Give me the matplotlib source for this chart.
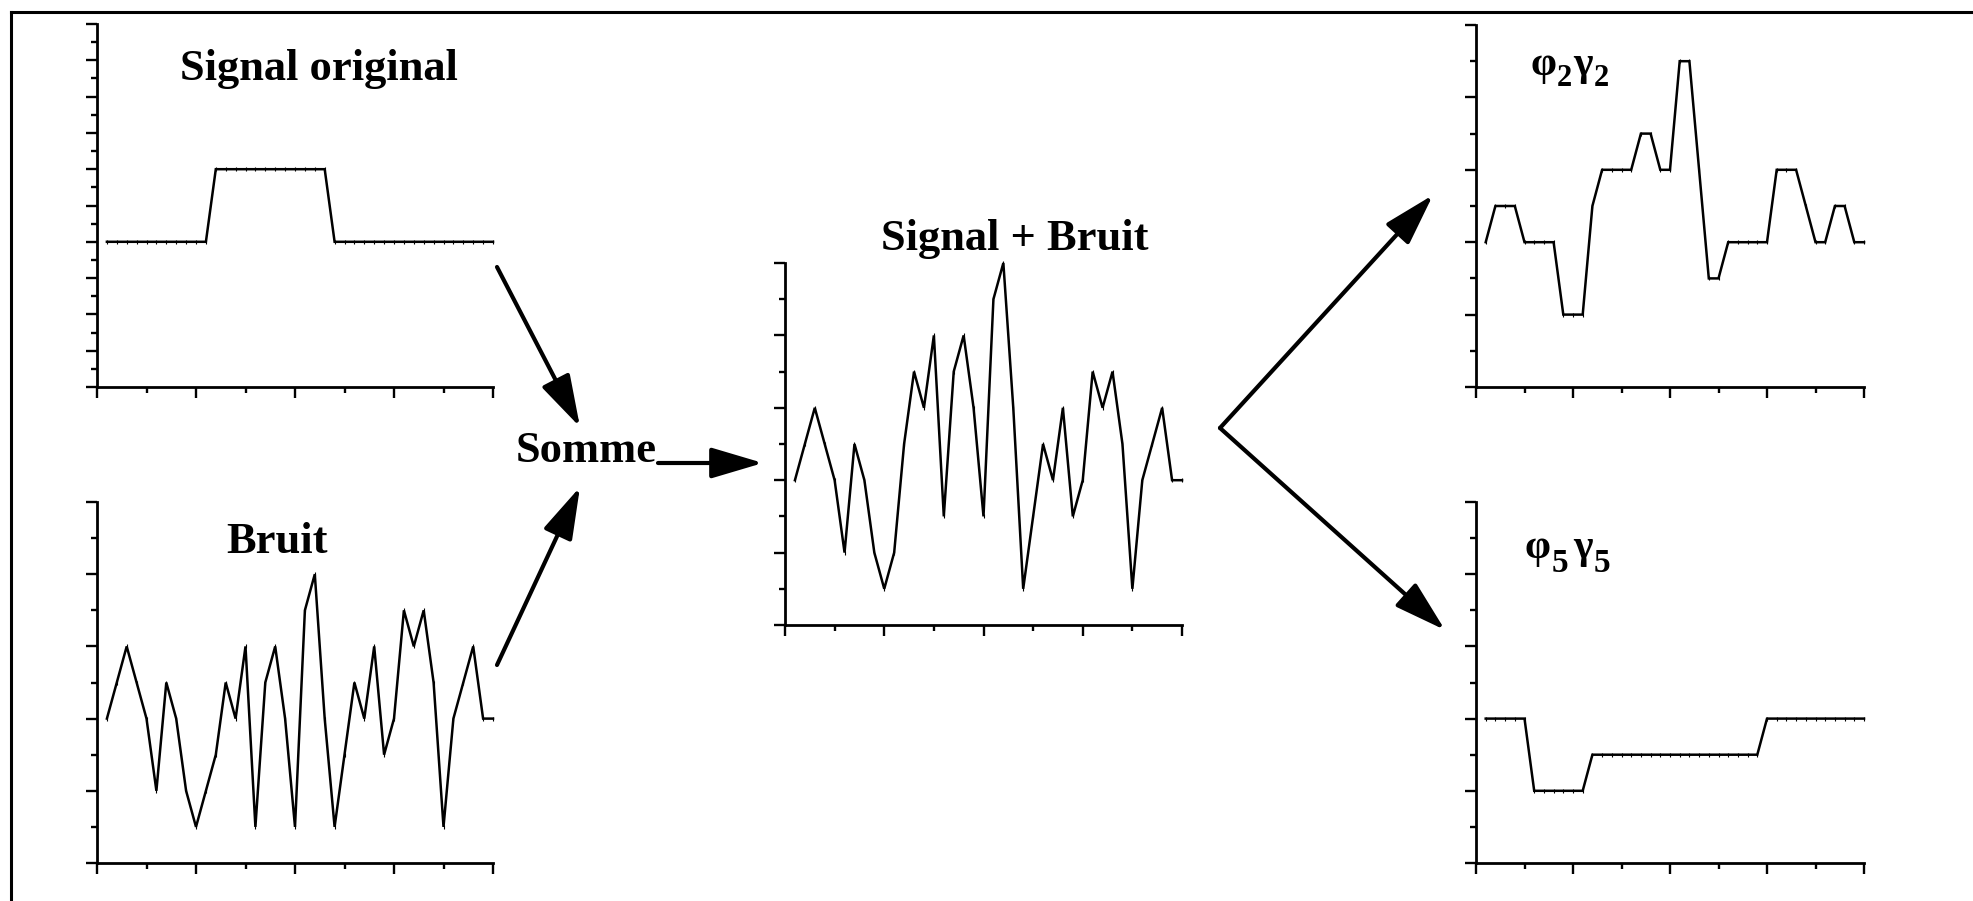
import matplotlib
matplotlib.use("Agg")
import matplotlib.pyplot as plt
import numpy as np
from matplotlib.lines import Line2D
from matplotlib.patches import FancyArrowPatch
from matplotlib.ticker import MultipleLocator, NullFormatter

W, H = 1973, 901

# sample index 1..40
x = np.arange(1, 41)

signal_original = [4, 4, 4, 4, 4, 4, 4, 4, 4, 4,
                   4, 6, 6, 6, 6, 6, 6, 6, 6, 6,
                   6, 6, 6, 4, 4, 4, 4, 4, 4, 4,
                   4, 4, 4, 4, 4, 4, 4, 4, 4, 4]
bruit = [4, 5, 6, 5, 4, 2, 5, 4, 2, 1,
         2, 3, 5, 4, 6, 1, 5, 6, 4, 1,
         7, 8, 4, 1, 3, 5, 4, 6, 3, 4,
         7, 6, 7, 5, 1, 4, 5, 6, 4, 4]
signal_bruit = [4, 5, 6, 5, 4, 2, 5, 4, 2, 1,
                2, 5, 7, 6, 8, 3, 7, 8, 6, 3,
                9, 10, 6, 1, 3, 5, 4, 6, 3, 4,
                7, 6, 7, 5, 1, 4, 5, 6, 4, 4]
phi2_gamma2 = [4, 5, 5, 5, 4, 4, 4, 4, 2, 2,
               2, 5, 6, 6, 6, 6, 7, 7, 6, 6,
               9, 9, 6, 3, 3, 4, 4, 4, 4, 4,
               6, 6, 6, 5, 4, 4, 5, 5, 4, 4]
phi5_gamma5 = [4, 4, 4, 4, 4, 2, 2, 2, 2, 2,
               2, 3, 3, 3, 3, 3, 3, 3, 3, 3,
               3, 3, 3, 3, 3, 3, 3, 3, 3, 4,
               4, 4, 4, 4, 4, 4, 4, 4, 4, 4]

serif = ["Liberation Serif", "DejaVu Serif"]

fig = plt.figure(figsize=(W / 100, H / 100), dpi=100)


def px_axes(x0, y0, x1, y1):
    # pixel box (top-left origin) -> axes
    return fig.add_axes([x0 / W, 1 - y1 / H, (x1 - x0) / W, (y1 - y0) / H])


def fx(px):
    return px / W


def fy(py):
    return 1 - py / H


def style(ax, ymaj, ymin):
    ax.set_xlim(0, 40)
    ax.set_ylim(0, 10)
    for s in ["top", "right"]:
        ax.spines[s].set_visible(False)
    for s in ["left", "bottom"]:
        ax.spines[s].set_linewidth(2.0)
    ax.xaxis.set_major_locator(MultipleLocator(10))
    ax.xaxis.set_minor_locator(MultipleLocator(5))
    ax.yaxis.set_major_locator(MultipleLocator(ymaj))
    ax.yaxis.set_minor_locator(MultipleLocator(ymin))
    ax.tick_params(which="major", direction="out", length=8, width=1.7)
    ax.tick_params(which="minor", direction="out", length=4, width=1.7)
    ax.xaxis.set_major_formatter(NullFormatter())
    ax.yaxis.set_major_formatter(NullFormatter())
    ax.patch.set_alpha(0)


panels = [
    ((97, 24, 493, 387), signal_original, 1, 0.5),
    ((97, 502, 493, 863), bruit, 2, 1),
    ((785, 263, 1182, 625), signal_bruit, 2, 1),
    ((1476, 25, 1864, 387), phi2_gamma2, 2, 1),
    ((1476, 502, 1864, 863), phi5_gamma5, 2, 1),
]
for box, y, ymaj, ymin in panels:
    ax = px_axes(*box)
    style(ax, ymaj, ymin)
    ax.plot(x, y, color="black", lw=1.8, marker="|", ms=3, mew=0.8,
            solid_joinstyle="miter", clip_on=False)

# titles
fs = 32
fig.text(fx(319), fy(80), "Signal original", ha="center", va="baseline",
         fontsize=fs, fontweight="bold", family=serif)
fig.text(fx(277), fy(553), "Bruit", ha="center", va="baseline",
         fontsize=fs, fontweight="bold", family=serif)
fig.text(fx(1015), fy(250), "Signal + Bruit", ha="center", va="baseline",
         fontsize=fs, fontweight="bold", family=serif)
fig.text(fx(586), fy(462), "Somme", ha="center", va="baseline",
         fontsize=fs, fontweight="bold", family=serif)

# greek labels with subscripts: letter placed, subscript put after its ink
renderer = fig.canvas.get_renderer()
greek = [
    (1530, 75, "\u03c6", 86, "2", 22),
    (1573, 75, "\u03b3", 86, "2", 22),
    (1525, 558, "\u03c6", 572, "5", 24),
    (1573, 558, "\u03b3", 572, "5", 24),
]
for gx, gy, g, sy, sub, sfs in greek:
    t = fig.text(fx(gx), fy(gy), g, ha="left", va="baseline",
                 fontsize=30, fontweight="bold", family=serif)
    bb = t.get_window_extent(renderer)
    fig.text(fx(bb.x1 + 1), fy(sy), sub, ha="left", va="baseline",
             fontsize=sfs, fontweight="bold", family=serif)

# arrows
arrows = [
    ((497, 267), (580, 427)),
    ((497, 665), (580, 487)),
    ((658, 463), (763, 463)),
    ((1220, 428), (1433, 195)),
    ((1220, 428), (1445, 630)),
]
for (ax0, ay0), (ax1, ay1) in arrows:
    arr = FancyArrowPatch((fx(ax0), fy(ay0)), (fx(ax1), fy(ay1)),
                          transform=fig.transFigure,
                          arrowstyle="-|>,head_length=32,head_width=9.5",
                          mutation_scale=1, lw=3, color="black",
                          shrinkA=0, shrinkB=0)
    fig.add_artist(arr)

# outer frame (left and top edges only)
fig.add_artist(Line2D([fx(11), fx(11)], [fy(12), fy(H)], color="black",
                      lw=2.2, transform=fig.transFigure))
fig.add_artist(Line2D([fx(11), fx(W)], [fy(12), fy(12)], color="black",
                      lw=2.2, transform=fig.transFigure))

fig.savefig("out.png", dpi=100)
